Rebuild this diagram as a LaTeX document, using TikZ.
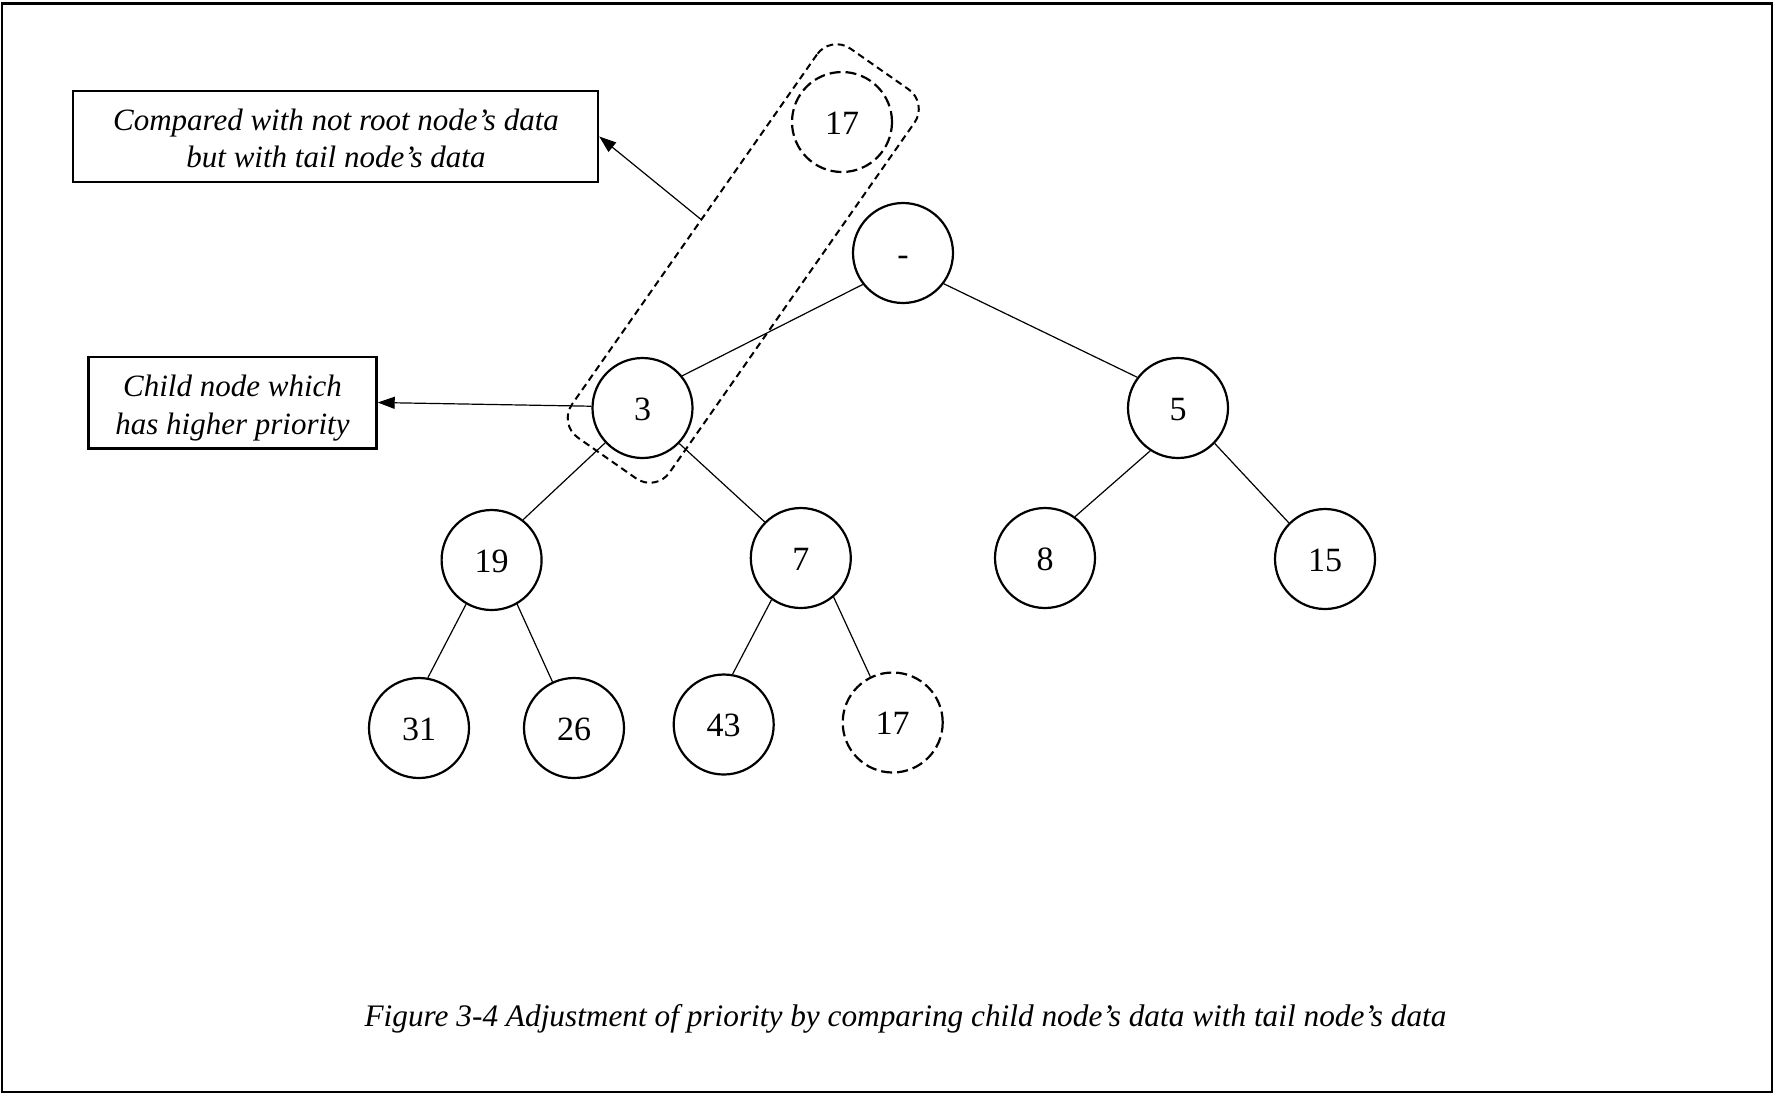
\documentclass[tikz,border=0pt]{standalone}
\usepackage{fontspec}
\setmainfont{Liberation Serif}
\usetikzlibrary{calc,arrows.meta}
\begin{document}
\begin{tikzpicture}[x=1pt,y=-1pt,
  tn/.style={circle,draw,line width=2.2pt,minimum size=100pt,inner sep=0pt,text height=24pt,text depth=0pt,font=\fontsize{34}{40}\selectfont},
  tnd/.style={tn,dash pattern=on 11pt off 5pt},
  edge/.style={line width=1.2pt},
  note/.style={draw,line width=2.4pt,inner sep=0pt},
  notetext/.style={anchor=base,inner sep=0pt,font=\fontsize{31}{37}\selectfont\itshape},
  arr/.style={line width=1.2pt,-{Triangle[length=17pt,width=12pt]}}
]
\useasboundingbox (0,0) rectangle (1774,1096);
\draw[line width=2.6pt] (2,3.5) rectangle (1772,1092);
% tree nodes
\node[tnd] (t17) at (842,122) {17};
\node[tn] (r) at (903,253) {-};
\node[tn] (n3) at (642.5,408) {3};
\node[tn] (n5) at (1178,408) {5};
\node[tn] (n19) at (491.6,560) {19};
\node[tn] (n7) at (800.8,558) {7};
\node[tn] (n8) at (1045,558) {8};
\node[tn] (n15) at (1325,559) {15};
\node[tn] (n31) at (419,728) {31};
\node[tn] (n26) at (574,728) {26};
\node[tn] (n43) at (723.7,724.5) {43};
\node[tnd] (b17) at (892.7,722.5) {17};
% dashed group
\coordinate (dc) at ($(n3)!0.5!(t17)$);
\node[draw,line width=2pt,dash pattern=on 7pt off 4.5pt,rounded corners=24pt,minimum width=475pt,minimum height=119pt,rotate=55,inner sep=0pt] (dbox) at ($(dc)+(1,-1.5)$) {};
% edges
\draw[edge] (r.218) -- (n3.39);
\draw[edge] (r.323) -- (n5.143);
\draw[edge] (n5.237) -- (n8.54);
\draw[edge] (n5.316) -- (n15.135);
\draw[edge] (n3.223) -- (n19.52);
\draw[edge] (n3.316) -- (n7.135);
\draw[edge] (n19.240) -- (n31.80);
\draw[edge] (n19.300) -- (n26.115);
\draw[edge] (n7.235) -- (n43.80);
\draw[edge] (n7.310) -- (b17.116);
% notes
\node[note,minimum width=525pt,minimum height=91pt] (c1) at (335.5,136.5) {};
\node[notetext] (c1a) at (336,130.5) {Compared with not root node’s data};
\node[notetext] (c1b) at (336,167.5) {but with tail node’s data};
\node[note,minimum width=288pt,minimum height=91.6pt] (c2) at (232.5,402.5) {};
\node[notetext] (c2a) at (232.5,396) {Child node which};
\node[notetext] (c2b) at (232.5,434) {has higher priority};
\coordinate (a1) at ($(dbox.north)!0.05!(dbox.north east)$);
\draw[arr] (a1) -- (c1.east);
\draw[arr] (n3.178) -- (c2.east);
% caption
\node[anchor=base,inner sep=0pt,font=\fontsize{31.3}{37}\selectfont\itshape] (cap) at (905.5,1026) {Figure 3-4 Adjustment of priority by comparing child node’s data with tail node’s data};
\end{tikzpicture}
\end{document}
